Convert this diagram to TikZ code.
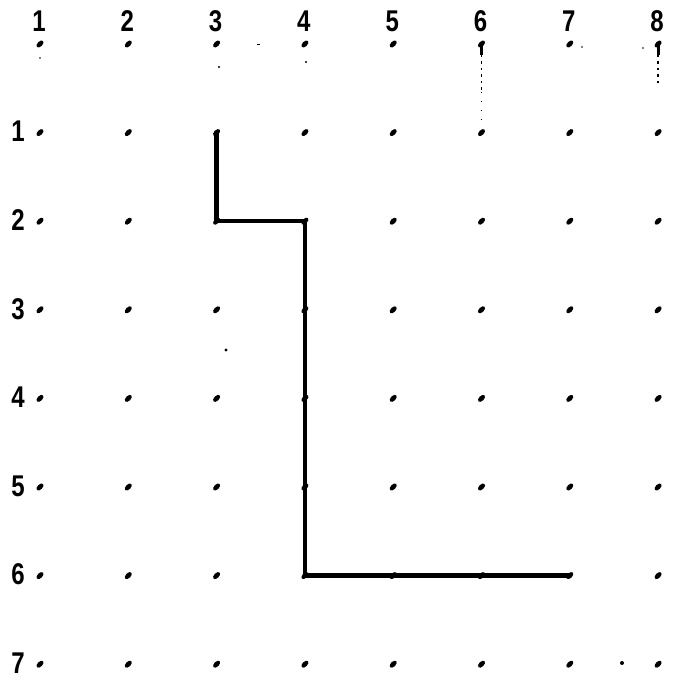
\documentclass[tikz,border=0pt]{standalone}
\usepackage{fontspec}
\setmainfont{Liberation Sans}
\begin{document}
\begin{tikzpicture}[x=1pt,y=1pt,
  lbl/.style={font=\bfseries\fontsize{30}{30}\selectfont, inner sep=0pt, anchor=center, xscale=0.8, transform shape},
  route/.style={line width=4.5pt, line join=miter, line cap=round},
  speck/.style={fill=black},
  trail/.style={line width=1.4pt, dash pattern=on 2.5pt off 4pt}]
\useasboundingbox (0,0) rectangle (674,680);
% grid coordinates: column i, row j (row 0 = top row of dots)
\foreach \i in {1,...,8} {
  \foreach \j in {0,...,7} {
    \coordinate (c-\i-\j) at ({40+(\i-1)*88.3},{680-44-\j*88.6});
  }
}
% dots
\foreach \i in {1,...,8} {
  \foreach \j in {0,...,7} {
    \fill[shift={(c-\i-\j)}, rotate=45] (0,0) ellipse (4.3 and 2.5);
  }
}
% column labels
\foreach \i in {1,...,8} {
  \node[lbl] (t-\i) at ({40+(\i-1)*88.3-1},659) {\i};
}
% row labels
\foreach \j in {1,...,7} {
  \node[lbl] (r-\j) at (18,{680-44-\j*88.6+1}) {\j};
}
% route
\draw[route] (c-3-1) -- (c-3-2) -- (c-4-2) -- (c-4-6) -- (c-7-6);
% stray marks
\coordinate (s1) at (40,622);
\coordinate (s2) at (219,613);
\coordinate (s3) at (258,635);
\coordinate (s4) at (306,618);
\coordinate (s5) at (226,330);
\coordinate (s6) at (622,17);
\coordinate (s7) at (582,633);
\coordinate (s8) at (643,632);
\fill[speck] (s1) circle (0.9);
\fill[speck] (s2) circle (1.1);
\fill[speck] ([xshift=-1.5pt]s3) rectangle ([xshift=1.5pt,yshift=1.2pt]s3);
\fill[speck] (s4) circle (1.2);
\fill[speck] (s5) circle (1.7);
\fill[speck] (s6) circle (2);
\fill[speck] (s7) circle (0.8);
\fill[speck] (s8) circle (0.8);
% trails below top dots of columns 6 and 8
\coordinate (d6a) at ([yshift=-11pt]c-6-0);
\coordinate (d6b) at ([yshift=-48pt]c-6-0);
\coordinate (d6c) at ([yshift=-80pt]c-6-0);
\coordinate (d8a) at ([yshift=-11pt]c-8-0);
\coordinate (d8b) at ([yshift=-40pt]c-8-0);
\draw[line width=3pt] (c-6-0) -- (d6a);
\draw[trail] (d6a) -- (d6b);
\draw[line width=0.7pt, dash pattern=on 1pt off 8pt] (d6b) -- (d6c);
\draw[line width=3pt] (c-8-0) -- (d8a);
\draw[trail] (d8a) -- (d8b);
\end{tikzpicture}
\end{document}
